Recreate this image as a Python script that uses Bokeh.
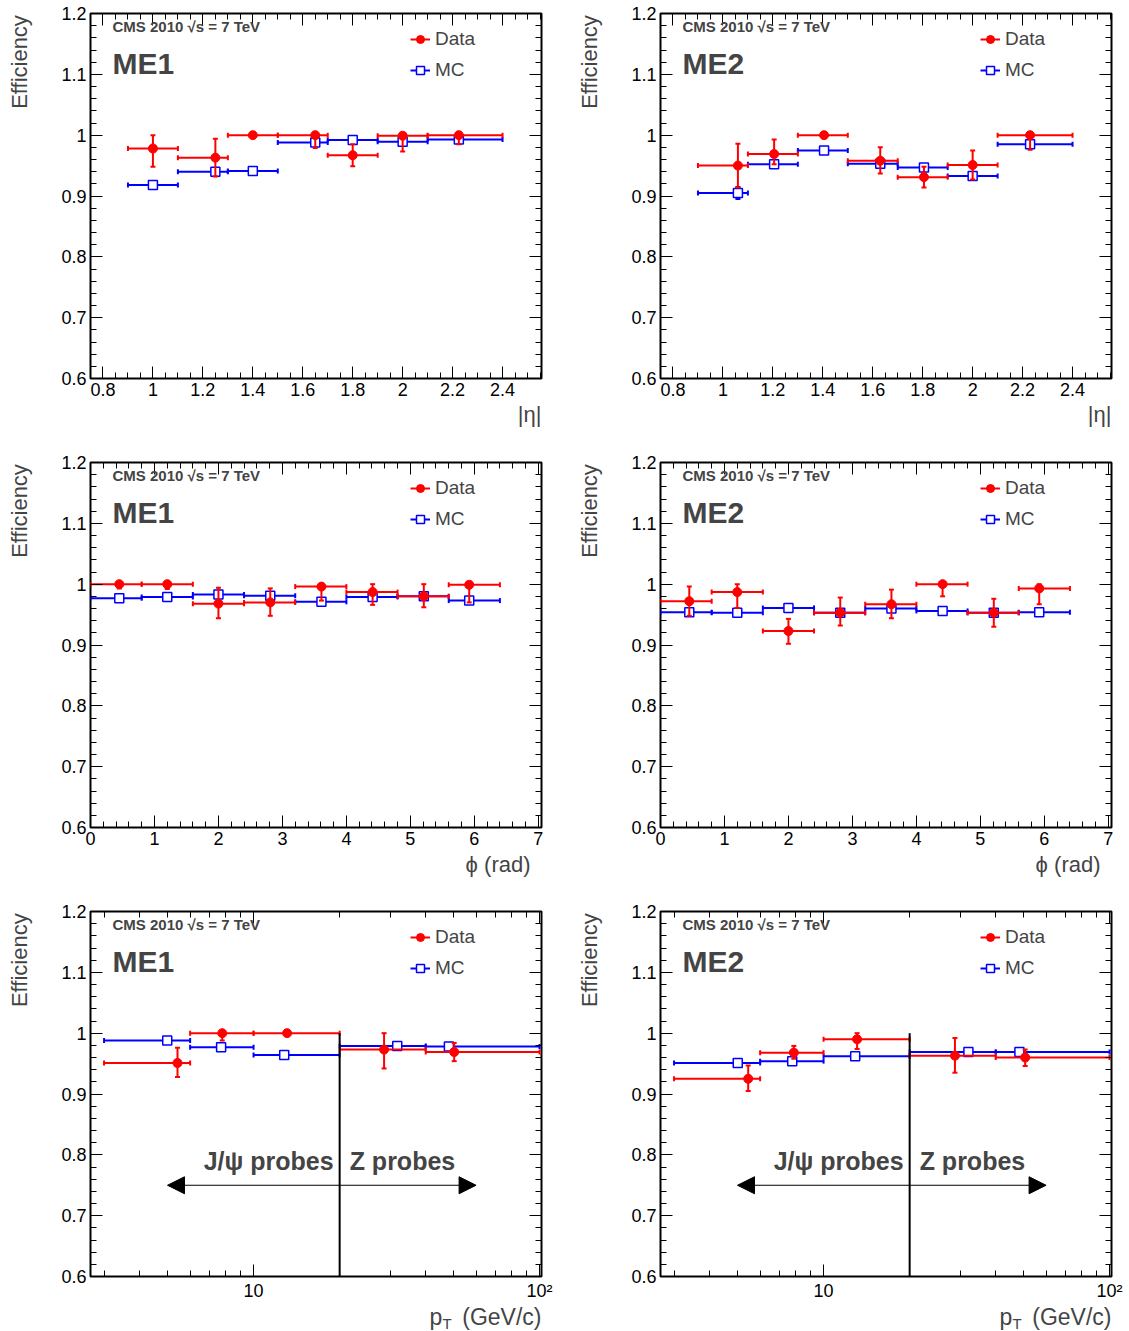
import math
from bokeh.plotting import figure
from bokeh.models import (ColumnDataSource, FixedTicker, LinearAxis, LogAxis,
                          CustomJSTickFormatter, CustomLabelingPolicy, Label,
                          Legend, LegendItem, Arrow, NormalHead, Title)
from bokeh.layouts import column, row
from bokeh.embed import file_html
from bokeh.resources import INLINE

FONT = "Liberation Sans"
RED = "#ff0000"
BLUE = "#0000ff"

# ---------------- data: efficiency vs |eta| ----------------
eta_lo = [0.9, 1.1, 1.3, 1.5, 1.7, 1.9, 2.1]
eta_hi = [1.1, 1.3, 1.5, 1.7, 1.9, 2.1, 2.4]

me1_eta_x = [1.00, 1.25, 1.40, 1.65, 1.80, 2.00, 2.225]
me1_eta_data = [0.978, 0.963, 1.000, 1.000, 0.967, 0.999, 1.000]
me1_eta_data_elo = [0.030, 0.031, 0.002, 0.021, 0.018, 0.026, 0.015]
me1_eta_data_ehi = [0.022, 0.031, 0.000, 0.000, 0.018, 0.001, 0.000]
me1_eta_mc = [0.918, 0.940, 0.941, 0.988, 0.992, 0.989, 0.993]
me1_eta_mc_err = [0.006, 0.004, 0.003, 0.004, 0.003, 0.004, 0.004]

me2_eta_x = [1.06, 1.205, 1.405, 1.63, 1.805, 2.00, 2.23]
me2_eta_data = [0.950, 0.969, 1.000, 0.958, 0.931, 0.951, 1.000]
me2_eta_data_elo = [0.036, 0.017, 0.002, 0.021, 0.017, 0.024, 0.024]
me2_eta_data_ehi = [0.036, 0.024, 0.000, 0.022, 0.017, 0.024, 0.000]
me2_eta_mc = [0.905, 0.952, 0.975, 0.953, 0.947, 0.933, 0.985]
me2_eta_mc_err = [0.010, 0.004, 0.003, 0.004, 0.003, 0.004, 0.006]

# ---------------- data: efficiency vs phi ----------------
phi_lo = [0.0, 0.8, 1.6, 2.4, 3.2, 4.0, 4.8, 5.6]
phi_hi = [0.8, 1.6, 2.4, 3.2, 4.0, 4.8, 5.6, 6.4]
phi_x = [0.45, 1.20, 2.00, 2.81, 3.61, 4.41, 5.21, 5.92]

me1_phi_data = [1.000, 1.000, 0.968, 0.970, 0.996, 0.987, 0.980, 0.999]
me1_phi_data_elo = [0.007, 0.008, 0.024, 0.022, 0.023, 0.021, 0.018, 0.029]
me1_phi_data_ehi = [0.000, 0.000, 0.026, 0.023, 0.004, 0.013, 0.020, 0.001]
me1_phi_mc = [0.977, 0.979, 0.983, 0.981, 0.971, 0.979, 0.980, 0.973]
me1_phi_mc_err = [0.003, 0.003, 0.003, 0.003, 0.003, 0.003, 0.003, 0.003]

me2_phi_data = [0.972, 0.987, 0.923, 0.953, 0.967, 1.000, 0.953, 0.993]
me2_phi_data_elo = [0.024, 0.026, 0.021, 0.021, 0.023, 0.020, 0.023, 0.026]
me2_phi_data_ehi = [0.024, 0.013, 0.020, 0.025, 0.024, 0.000, 0.023, 0.007]
me2_phi_mc = [0.954, 0.953, 0.961, 0.953, 0.960, 0.956, 0.953, 0.954]
me2_phi_mc_err = [0.003, 0.003, 0.003, 0.003, 0.003, 0.003, 0.003, 0.003]

# ---------------- data: efficiency vs pT ----------------
pt_lo = [3, 6, 10, 20, 40]
pt_hi = [6, 10, 20, 40, 100]

me1_pt_data_x = [5.42, 7.77, 13.1, 28.6, 50.3]
me1_pt_mc_x = [4.99, 7.70, 12.8, 31.8, 48.2]
me1_pt_data = [0.951, 1.000, 1.000, 0.973, 0.969]
me1_pt_data_elo = [0.023, 0.012, 0.003, 0.031, 0.015]
me1_pt_data_ehi = [0.025, 0.000, 0.000, 0.027, 0.015]
me1_pt_mc = [0.988, 0.977, 0.964, 0.979, 0.978]
me1_pt_mc_err = [0.003, 0.003, 0.003, 0.003, 0.003]

me2_pt_data_x = [5.45, 7.87, 13.1, 28.8, 50.7]
me2_pt_mc_x = [5.01, 7.77, 12.9, 32.1, 48.4]
me2_pt_data = [0.925, 0.968, 0.990, 0.963, 0.960]
me2_pt_data_elo = [0.020, 0.010, 0.016, 0.028, 0.014]
me2_pt_data_ehi = [0.022, 0.011, 0.010, 0.029, 0.013]
me2_pt_mc = [0.951, 0.954, 0.962, 0.969, 0.969]
me2_pt_mc_err = [0.003, 0.003, 0.003, 0.003, 0.003]

# ---------------- axis ticks / annotations ----------------
y_major = [0.6, 0.7, 0.8, 0.9, 1.0, 1.1, 1.2]
eta_major = [0.8, 1.0, 1.2, 1.4, 1.6, 1.8, 2.0, 2.2, 2.4]
phi_major = [0, 1, 2, 3, 4, 5, 6, 7]
pt_major = [10, 100]
pt_minor = [3, 4, 5, 6, 7, 8, 9, 20, 30, 40, 50, 60, 70, 80, 90]

split_pt = 20.0          # boundary between J/psi and Z probes
split_top = 1.0
arrow_pt_lo = 5.0
arrow_pt_hi = 60.0
arrow_eff = 0.75
probes_text_eff = 0.767

FW, FH = 451, 365
YSTRIP_W = 42            # strip holding the "Efficiency" title
BORDER_L = 48            # left border of each panel (tick labels)
LEFT_W, RIGHT_W = 570, 559   # full column widths incl. strip
ROW_H = 449
LAST_ROW_H = 13 + FH + 26
STRIP_H = 29

NUM_FMT = "return String(Number(tick.toFixed(2)));"
PT_FMT = "if (tick > 50) { return '10\u00b2'; } return String(Math.round(tick));"


def style_axis(ax, labels=True):
    ax.axis_line_color = None
    ax.major_tick_in = 12
    ax.major_tick_out = 0
    ax.minor_tick_in = 6
    ax.minor_tick_out = 0
    ax.major_tick_line_color = "black"
    ax.minor_tick_line_color = "black"
    ax.major_tick_line_width = 1
    ax.minor_tick_line_width = 1
    if labels:
        ax.major_label_text_font = FONT
        ax.major_label_text_font_size = "18px"
        ax.major_label_text_color = "black"
        ax.major_label_standoff = 4
    else:
        ax.major_label_text_font_size = "1px"
        ax.major_label_standoff = 0
        ax.major_label_policy = CustomLabelingPolicy(code="return new Set()")


def add_series(p, lo, hi, x, y, elo, ehi, color, marker, fill, lw):
    src = ColumnDataSource(dict(
        lo=lo, hi=hi, x=x, y=y,
        ylo=[a - b for a, b in zip(y, elo)],
        yhi=[a + b for a, b in zip(y, ehi)]))
    h = p.segment(x0="lo", y0="y", x1="hi", y1="y", source=src,
                  line_color=color, line_width=2)
    p.segment(x0="x", y0="ylo", x1="x", y1="yhi", source=src,
              line_color=color, line_width=2)
    for xc in ("lo", "hi"):
        p.scatter(x=xc, y="y", source=src, marker="dash", angle=math.pi / 2,
                  size=5, line_color=color, line_width=2)
    for yc in ("ylo", "yhi"):
        p.scatter(x="x", y=yc, source=src, marker="dash", size=5,
                  line_color=color, line_width=2)
    m = p.scatter(x="x", y="y", source=src, marker=marker, size=9,
                  line_color=color, line_width=lw, fill_color=fill)
    return h, m


def blank_fig(w, h):
    s = figure(width=w, height=h, x_range=(0, w), y_range=(0, h),
               x_axis_location=None, y_axis_location=None,
               output_backend="svg", toolbar_location=None, tools="",
               min_border=0, min_border_left=0, min_border_right=0,
               min_border_top=0, min_border_bottom=0,
               outline_line_color=None)
    s.xgrid.visible = False
    s.ygrid.visible = False
    return s


def y_title_strip(h):
    s = blank_fig(YSTRIP_W, h)
    s.add_layout(Label(x=19, y=h - 2, text="Efficiency", angle=math.pi / 2,
                       text_align="right", text_baseline="middle",
                       text_font=FONT, text_font_size="22px"))
    return s


def make_panel(kind, station, lo, hi, dx, dy, delo, dehi, mx, my, merr,
               first_col, last_row):
    xr = {"eta": (0.75, 2.556), "phi": (0.0, 7.05), "pt": (2.69, 101.6)}[kind]
    total_w = (LEFT_W if first_col else RIGHT_W) - YSTRIP_W
    kw = dict(frame_width=FW, frame_height=FH, x_range=xr, y_range=(0.6, 1.2),
              output_backend="svg", toolbar_location=None, tools="",
              min_border_left=BORDER_L,
              min_border_right=total_w - BORDER_L - FW,
              min_border_top=13,
              min_border_bottom=26 if last_row else ROW_H - 13 - FH,
              background_fill_color="white", border_fill_color="white")
    if kind == "pt":
        kw["x_axis_type"] = "log"
    p = figure(**kw)
    p.xgrid.visible = False
    p.ygrid.visible = False
    p.outline_line_color = "black"
    p.outline_line_width = 2

    yt = FixedTicker(ticks=y_major,
                     minor_ticks=[round(0.6 + 0.02 * i, 2) for i in range(31)])
    if kind == "eta":
        xt = FixedTicker(ticks=eta_major,
                         minor_ticks=[round(0.75 + 0.05 * i, 2) for i in range(37)])
        xcode = NUM_FMT
    elif kind == "phi":
        xt = FixedTicker(ticks=phi_major,
                         minor_ticks=[round(0.2 * i, 1) for i in range(36)])
        xcode = NUM_FMT
    else:
        xt = FixedTicker(ticks=pt_major, minor_ticks=pt_minor)
        xcode = PT_FMT

    p.xaxis[0].ticker = xt
    p.xaxis[0].formatter = CustomJSTickFormatter(code=xcode)
    p.yaxis[0].ticker = yt
    p.yaxis[0].formatter = CustomJSTickFormatter(code=NUM_FMT)
    style_axis(p.xaxis[0])
    style_axis(p.yaxis[0])

    top_ax = (LogAxis if kind == "pt" else LinearAxis)(
        ticker=xt, formatter=CustomJSTickFormatter(code=xcode))
    style_axis(top_ax, labels=False)
    p.add_layout(top_ax, "above")
    right_ax = LinearAxis(ticker=yt, formatter=CustomJSTickFormatter(code=NUM_FMT))
    style_axis(right_ax, labels=False)
    p.add_layout(right_ax, "right")

    # MC first, data on top
    mh, mm = add_series(p, lo, hi, mx, my, merr, merr, BLUE, "square", "white", 1.5)
    dh, dm = add_series(p, lo, hi, dx, dy, delo, dehi, RED, "circle", RED, 1)

    legend = Legend(items=[LegendItem(label="Data", renderers=[dh, dm]),
                           LegendItem(label="MC", renderers=[mh, mm])],
                    location=(320, 297), orientation="vertical",
                    padding=0, margin=0, spacing=9,
                    glyph_width=20, glyph_height=20, label_height=20,
                    label_standoff=5, label_text_font=FONT,
                    label_text_font_size="19px", border_line_color=None,
                    background_fill_alpha=0)
    p.add_layout(legend)

    p.add_layout(Label(x=22, y=FH - 13, x_units="screen", y_units="screen",
                       text="CMS 2010 \u221as = 7 TeV", text_font=FONT,
                       text_font_style="bold", text_font_size="15px",
                       text_baseline="middle"))
    p.add_layout(Label(x=22, y=FH - 50, x_units="screen", y_units="screen",
                       text=station, text_font=FONT, text_font_style="bold",
                       text_font_size="30px", text_baseline="middle"))

    if kind == "eta":
        p.add_layout(Title(text="|\u03b7|", align="right", text_font=FONT,
                           text_font_size="22px", text_font_style="normal",
                           standoff=2), "below")
    elif kind == "phi":
        p.add_layout(Title(text="\u03d5 (rad)", align="right", offset=11,
                           text_font=FONT, text_font_size="22px",
                           text_font_style="normal", standoff=4), "below")
    else:
        # split line and double arrow
        p.add_layout(Arrow(end=None, x_start=split_pt, y_start=0.6,
                           x_end=split_pt, y_end=split_top,
                           line_color="black", line_width=2))
        p.add_layout(Arrow(start=NormalHead(size=17, fill_color="black",
                                            line_color="black"),
                           end=NormalHead(size=17, fill_color="black",
                                          line_color="black"),
                           x_start=arrow_pt_lo, y_start=arrow_eff,
                           x_end=arrow_pt_hi, y_end=arrow_eff,
                           line_color="black", line_width=1.2))
        p.add_layout(Label(x=split_pt, y=probes_text_eff, x_offset=-6,
                           text="J/\u03c8 probes", text_align="right",
                           text_font=FONT, text_font_style="bold",
                           text_font_size="25px"))
        p.add_layout(Label(x=split_pt, y=probes_text_eff, x_offset=10,
                           text="Z probes", text_align="left",
                           text_font=FONT, text_font_style="bold",
                           text_font_size="25px"))
    return p


def make_pt_title_strip(total_w):
    s = blank_fig(total_w, STRIP_H)
    right = YSTRIP_W + BORDER_L + FW
    s.add_layout(Label(x=right - 112, y=15.5, text="p",
                       text_align="left", text_baseline="middle",
                       text_font=FONT, text_font_size="23px"))
    s.add_layout(Label(x=right - 99, y=9, text="T",
                       text_align="left", text_baseline="middle",
                       text_font=FONT, text_font_size="15px"))
    s.add_layout(Label(x=right, y=15.5, text="(GeV/c)",
                       text_align="right", text_baseline="middle",
                       text_font=FONT, text_font_size="23px"))
    return s


p1 = make_panel("eta", "ME1", eta_lo, eta_hi, me1_eta_x, me1_eta_data,
                me1_eta_data_elo, me1_eta_data_ehi, me1_eta_x, me1_eta_mc,
                me1_eta_mc_err, True, False)
p2 = make_panel("eta", "ME2", eta_lo, eta_hi, me2_eta_x, me2_eta_data,
                me2_eta_data_elo, me2_eta_data_ehi, me2_eta_x, me2_eta_mc,
                me2_eta_mc_err, False, False)
p3 = make_panel("phi", "ME1", phi_lo, phi_hi, phi_x, me1_phi_data,
                me1_phi_data_elo, me1_phi_data_ehi, phi_x, me1_phi_mc,
                me1_phi_mc_err, True, False)
p4 = make_panel("phi", "ME2", phi_lo, phi_hi, phi_x, me2_phi_data,
                me2_phi_data_elo, me2_phi_data_ehi, phi_x, me2_phi_mc,
                me2_phi_mc_err, False, False)
p5 = make_panel("pt", "ME1", pt_lo, pt_hi, me1_pt_data_x, me1_pt_data,
                me1_pt_data_elo, me1_pt_data_ehi, me1_pt_mc_x, me1_pt_mc,
                me1_pt_mc_err, True, True)
p6 = make_panel("pt", "ME2", pt_lo, pt_hi, me2_pt_data_x, me2_pt_data,
                me2_pt_data_elo, me2_pt_data_ehi, me2_pt_mc_x, me2_pt_mc,
                me2_pt_mc_err, False, True)
s1 = make_pt_title_strip(LEFT_W)
s2 = make_pt_title_strip(RIGHT_W)

layout = column(
    row(y_title_strip(ROW_H), p1, y_title_strip(ROW_H), p2),
    row(y_title_strip(ROW_H), p3, y_title_strip(ROW_H), p4),
    row(y_title_strip(LAST_ROW_H), p5, y_title_strip(LAST_ROW_H), p6),
    row(s1, s2))
open("out.html", "w").write(file_html(layout, INLINE))
